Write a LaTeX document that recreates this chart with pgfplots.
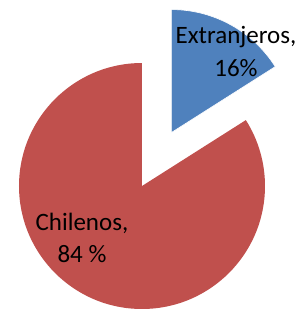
\documentclass[border=0pt]{standalone}
\usepackage{fontspec}
\setmainfont{Carlito}
\usepackage{pgfplots}
\usepackage{pgfplotstable}
\pgfplotsset{compat=1.18}
\definecolor{pieblue}{HTML}{4F81BD}
\definecolor{piered}{HTML}{C0504D}
\pgfplotstableread{
label value
Extranjeros 16
Chilenos 84
}\piedata
\begin{document}
\begin{tikzpicture}
\pgfplotstablegetelem{0}{value}\of\piedata \let\vA\pgfplotsretval
\pgfplotstablegetelem{1}{value}\of\piedata \let\vB\pgfplotsretval
\pgfmathsetmacro{\aA}{90-3.6*\vA}
\pgfmathsetmacro{\aB}{90+3.6*\vB}
\pgfmathsetmacro{\pmid}{90-1.8*\vA}
\begin{axis}[x=1pt,y=1pt,xmin=0,xmax=299,ymin=0,ymax=309,hide axis,clip=false]
\path (axis cs:0,0) (axis cs:299,309);
\fill[piered] (axis cs:142,123) -- ++(90:123pt) arc[start angle=90,end angle=\aB,radius=123pt] -- cycle;
\filldraw[fill=pieblue,draw=white,line width=0.6pt] ([shift={(\pmid:61pt)}]axis cs:142,123) -- ++(\aA:123pt) arc[start angle=\aA,end angle=90,radius=123pt] -- cycle;
\node[align=center,font=\fontsize{25}{33}\selectfont,inner sep=0pt] at (axis cs:236,257) {Extranjeros,\\16\%};
\node[align=center,font=\fontsize{25}{32}\selectfont,inner sep=0pt] at (axis cs:82,71) {Chilenos,\\84 \%};
\end{axis}
\end{tikzpicture}
\end{document}
